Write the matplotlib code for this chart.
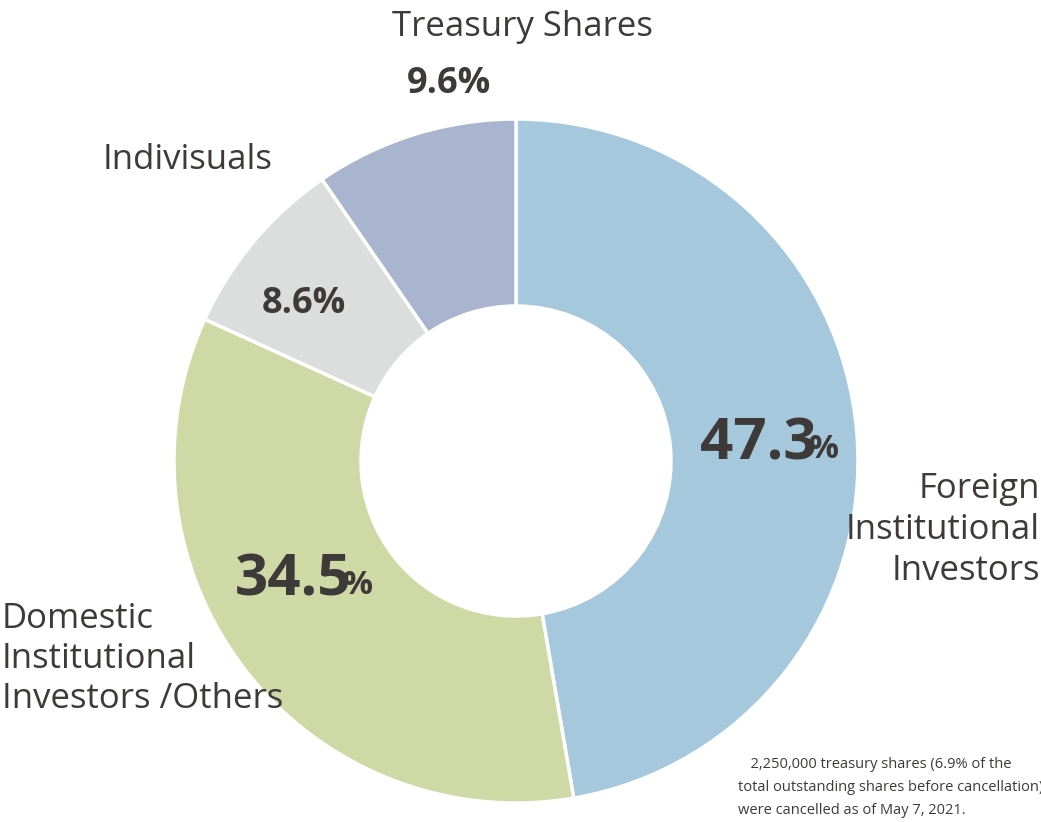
import matplotlib
matplotlib.use("Agg")
import matplotlib.pyplot as plt

categories = ["Foreign\nInstitutional\nInvestors", "Domestic\nInstitutional\nInvestors /Others", "Indivisuals", "Treasury Shares"]
values = [47.3, 34.5, 8.6, 9.6]
colors = ["#a5c8dc", "#cfd9a5", "#dcdddd", "#a9b4cf"]
tc = "#3e3a39"
W, H = 1041, 822
fig = plt.figure(figsize=(W/100, H/100), dpi=100)
ax = fig.add_axes([0, 0, 1, 1])
ax.set_xlim(0, W); ax.set_ylim(0, H); ax.set_aspect("equal"); ax.axis("off")
cx, cy = 516, H - 461
ax.pie(values, colors=colors, startangle=90, counterclock=False, center=(cx, cy), radius=342,
       wedgeprops=dict(width=342-155, edgecolor="white", linewidth=2.5), frame=True)
ax.set_xlim(0, W); ax.set_ylim(0, H); ax.axis("off")
f = "Open Sans"
def T(x, y, s, size, ha="left", weight="normal", va="center", ls=1.2):
    ax.text(x, H - y, s, fontsize=size, ha=ha, va=va, color=tc, fontfamily=f, fontweight=weight, linespacing=ls)
T(1040, 530, categories[0], 25, ha="right", ls=1.25)
T(2, 659, categories[1], 25, ls=1.25)
T(103, 160, categories[2], 25)
T(392, 27, categories[3] + "※", 25)
ax.text(758, H - 445, f"{values[0]}", fontsize=42, ha="center", va="center", color=tc, fontfamily=f, fontweight="bold")
T(809, 450, "%", 24, weight="bold")
ax.text(293, H - 580, f"{values[1]}", fontsize=42, ha="center", va="center", color=tc, fontfamily=f, fontweight="bold")
T(343, 585, "%", 24, weight="bold")
T(304, 304, f"{values[2]}%", 26, ha="center", weight="bold")
T(449, 84, f"{values[3]}%", 26, ha="center", weight="bold")
T(738, 757, "※ 2,250,000 treasury shares (6.9% of the\ntotal outstanding shares before cancellation)\nwere cancelled as of May 7, 2021.", 10.5, va="top", ls=1.75)
fig.savefig("out.png", dpi=100)
